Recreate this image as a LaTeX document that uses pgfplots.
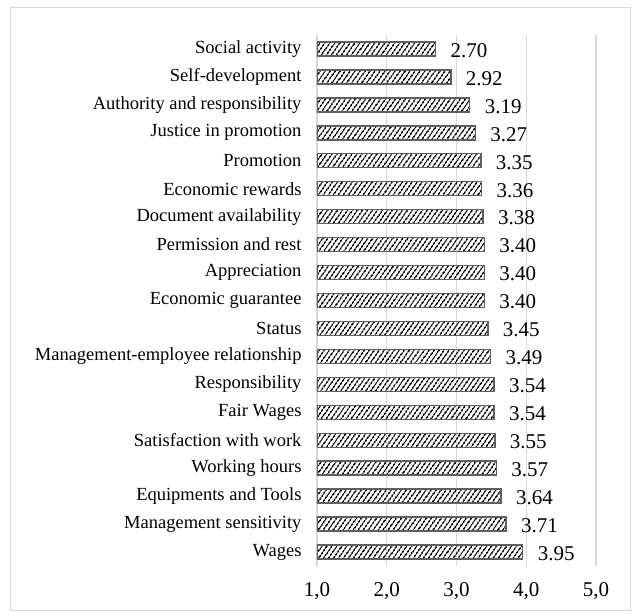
\documentclass[border=0pt]{standalone}
\usepackage{fontspec}
\setmainfont{Liberation Serif}
\usepackage{pgfplots}
\pgfplotsset{compat=1.18}
\usetikzlibrary{patterns.meta}

\definecolor{gridgray}{RGB}{217,217,217}
\definecolor{bargray}{RGB}{95,95,95}

\pgfplotstableread[col sep=comma]{
y,val,lab
0,3.95,3.95
1,3.71,3.71
2,3.64,3.64
3,3.57,3.57
4,3.55,3.55
5,3.54,3.54
6,3.54,3.54
7,3.49,3.49
8,3.45,3.45
9,3.40,3.40
10,3.40,3.40
11,3.40,3.40
12,3.38,3.38
13,3.36,3.36
14,3.35,3.35
15,3.27,3.27
16,3.19,3.19
17,2.92,2.92
18,2.70,2.70
}\scores

\begin{document}
\begin{tikzpicture}
% page and chart frame, placed around the plot area (origin = plot area's lower left)
\fill[white] (-317pt,-48pt) rectangle (323pt,566pt);
\draw[gridgray, line width=0.8pt] (-307pt,-44pt) rectangle (313pt,559pt);

\begin{axis}[
  at={(0,0)}, anchor=south west,
  scale only axis,
  width=279pt, height=531pt,
  xbar, bar width=14pt,
  xmin=1, xmax=5,
  ymin=-0.5, ymax=18.5,
  axis line style={draw=none},
  xmajorgrids,
  x grid style={gridgray, line width=1.2pt},
  xtick={1,2,3,4,5},
  xticklabels={{1,0},{2,0},{3,0},{4,0},{5,0}},
  xticklabel style={font=\fontsize{21}{25}\selectfont, yshift=-13pt},
  ytick={0,...,18},
  yticklabels={
    Wages,
    Management sensitivity,
    Equipments and Tools,
    Working hours\ ,
    Satisfaction with work,
    Fair Wages,
    Responsibility,
    Management-employee relationship\ ,
    Status,
    Economic guarantee\ ,
    Appreciation,
    Permission and rest,
    Document availability,
    Economic rewards\ ,
    Promotion,
    Justice in promotion,
    Authority and responsibility,
    Self-development,
    Social activity
  },
  yticklabel style={font=\fontsize{18.5}{22}\selectfont, xshift=-12pt},
  major tick length=0pt,
  nodes near coords,
  point meta=explicit symbolic,
  every node near coord/.append style={font=\fontsize{21}{25}\selectfont, anchor=west, xshift=11pt, yshift=-1.5pt},
]
\addplot[draw=bargray, line width=1.4pt,
  pattern={Lines[angle=55, distance=4pt, line width=1.7pt]}, pattern color=black]
  table[x=val, y=y, meta=lab] {\scores};
\end{axis}
\end{tikzpicture}
\end{document}
